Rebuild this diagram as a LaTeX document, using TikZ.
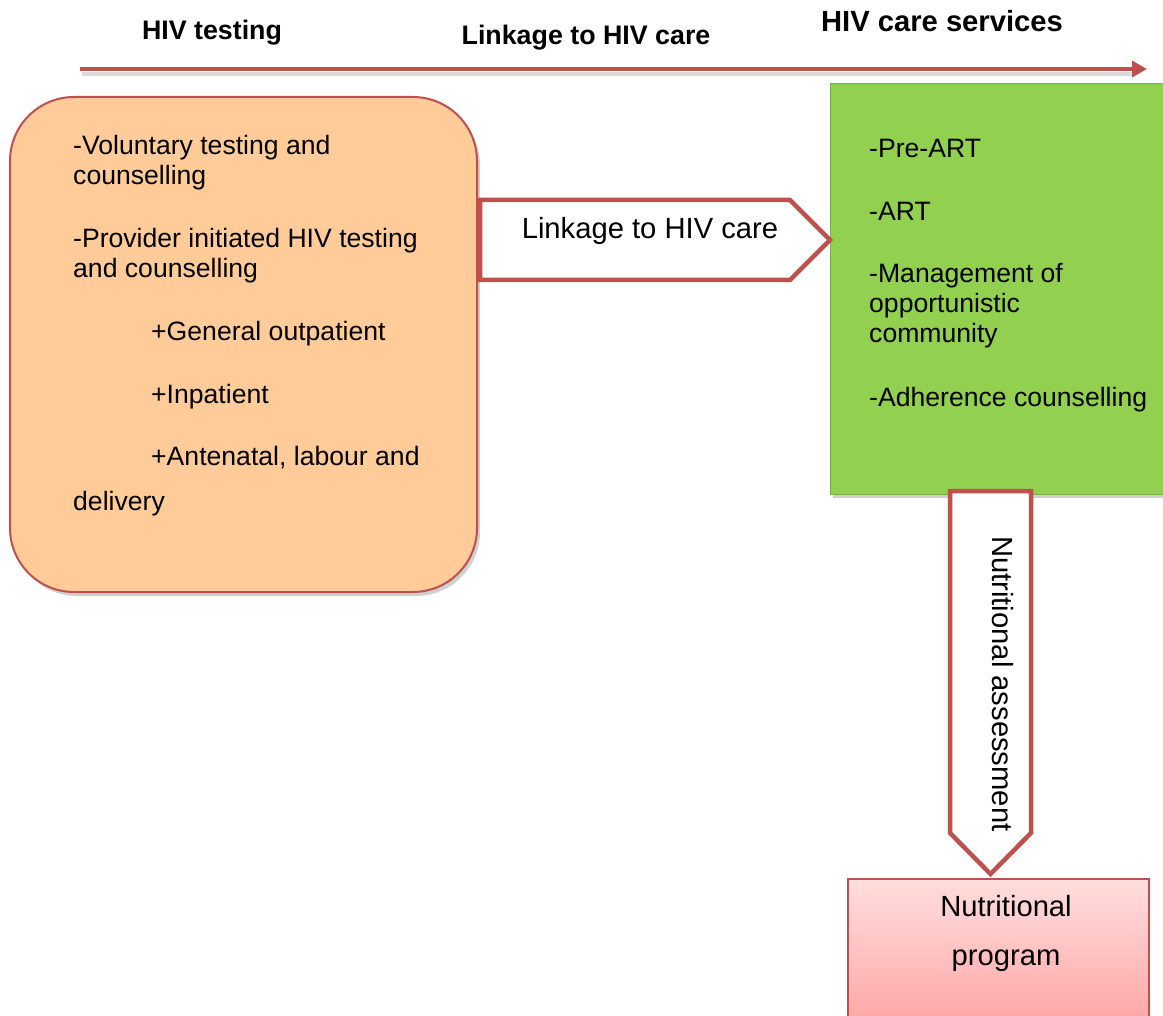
\documentclass[tikz,border=0pt]{standalone}
\usepackage{fontspec}
\setmainfont{Liberation Sans}
\usetikzlibrary{shadows,arrows.meta}
\definecolor{redline}{HTML}{C0504D}
\definecolor{orangefill}{HTML}{FFCB98}
\definecolor{greenfill}{HTML}{92D050}
\definecolor{pinktop}{HTML}{FFDEDE}
\definecolor{pinkbot}{HTML}{FFA4A4}
\begin{document}
\begin{tikzpicture}[x=1pt,y=-1pt,
  body/.style={font=\fontsize{26.6}{31}\selectfont, anchor=base west, inner sep=0pt},
  big/.style={font=\fontsize{29.2}{35}\selectfont, inner sep=0pt},
  head/.style={font=\fontsize{26.8}{31}\selectfont\bfseries, anchor=base, inner sep=0pt},
  softshadow/.style={drop shadow={opacity=0.3,shadow xshift=3pt,shadow yshift=-4pt,fill=black!60}},
  arrowbox/.style={draw=redline, line width=4.5pt, fill=white, line join=miter},
  timeline/.style={draw=redline, line width=4.5pt, -{Triangle[length=15pt,width=16pt]}},
]
\useasboundingbox (0,0) rectangle (1163,1016);
\fill[white] (0,0) rectangle (1163,1016);

% headers
\node[head] (h1) at (212,40) {HIV testing};
\node[head] (h2) at (586,45) {Linkage to HIV care};
\node[head, font=\fontsize{29.2}{35}\selectfont\bfseries] (h3) at (942,32) {HIV care services};

% timeline arrow
\coordinate (t0) at (80,69);
\coordinate (t1) at (1147,69);
\coordinate (t0s) at (82,74);
\coordinate (t1s) at (1133,74);
\draw[line width=4pt, black, opacity=0.15] (t0s) -- (t1s);
\draw[timeline] (t0) -- (t1);

% HIV testing box
\node[draw=redline, line width=2pt, fill=orangefill, rounded corners=64pt,
      minimum width=467pt, minimum height=495pt, inner sep=0pt, softshadow]
      (testing) at (243.5,344.5) {};
\node[body] (v1) at (73,155) {-Voluntary testing and};
\node[body] (v2) at (73,185) {counselling};
\node[body] (p1) at (73,248) {-Provider initiated HIV testing};
\node[body] (p2) at (73,278) {and counselling};
\node[body] (g1) at (151,341) {+General outpatient};
\node[body] (i1) at (151,404) {+Inpatient};
\node[body] (a1) at (151,466) {+Antenatal, labour and};
\node[body] (d1) at (73,511) {delivery};

% HIV care services box
\node[draw=greenfill!85!black, line width=0.8pt, fill=greenfill, minimum width=345pt,
      minimum height=411pt, inner sep=0pt, softshadow]
      (care) at (1002.5,288.5) {};
\node[body] (c1) at (869,158) {-Pre-ART};
\node[body] (c2) at (869,221) {-ART};
\node[body] (c3) at (869,283) {-Management of};
\node[body] (c4) at (869,313) {opportunistic};
\node[body] (c5) at (869,343) {community};
\node[body] (c6) at (869,407) {-Adherence counselling};

% linkage arrow
\coordinate (la) at (480,200);
\coordinate (lb) at (790,200);
\coordinate (lc) at (830,240);
\coordinate (ld) at (790,280);
\coordinate (le) at (480,280);
\draw[arrowbox] (la) -- (lb) -- (lc) -- (ld) -- (le) -- cycle;
\node[big, anchor=base] (linktext) at (650,239) {Linkage to HIV care};

% nutritional program box
\node[draw=redline, line width=1.5pt, top color=pinktop, bottom color=pinkbot,
      minimum width=301pt, minimum height=150pt, inner sep=0pt, anchor=north west]
      (prog) at (847,878) {};
\node[big, anchor=base] (n1) at (1006,916) {Nutritional};
\node[big, anchor=base] (n2) at (1006,965) {program};

% nutritional assessment arrow
\coordinate (va) at (950,491);
\coordinate (vb) at (1031,491);
\coordinate (vc) at (1031,833);
\coordinate (vd) at (990.5,874);
\coordinate (ve) at (950,833);
\draw[arrowbox] (va) -- (vb) -- (vc) -- (vd) -- (ve) -- cycle;
\node[big, rotate=-90, anchor=base west] (nass) at (992,536) {Nutritional assessment};
\end{tikzpicture}
\end{document}
